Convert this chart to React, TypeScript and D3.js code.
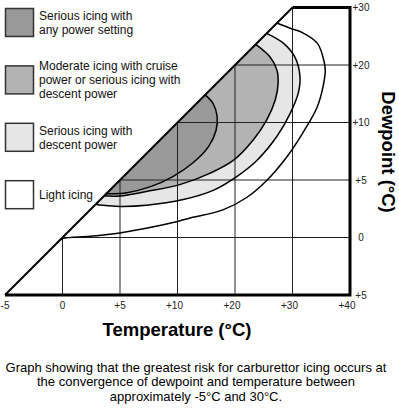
import React, { useEffect, useRef } from "react";
import * as d3 from "d3";

// axis ticks (the chart uses an uneven value spacing)
const xTicks = [-5, 0, 5, 10, 20, 30, 40];
const xTickLabels = ["-5", "0", "+5", "+10", "+20", "+30", "+40"];
const yTicks = [-5, 0, 5, 10, 20, 30];
const yTickLabels = ["+5", "0", "+5", "+10", "+20", "+30"];

// region boundaries [temperature, dewpoint], from lower diagonal end to upper diagonal end
const lightIcing: [number, number][] = [
  [-0.5, -0.5], [0, -0.1], [2.4, 0.1], [5, 0.4], [6.7, 0.7], [10, 1.4],
  [12.2, 1.7], [17.9, 2.4], [22.1, 3.5], [25.6, 5], [29, 7], [31.8, 9.1],
  [34.3, 12.7], [35.3, 16.2], [35.7, 19.1], [35.3, 21.4], [34.3, 23.8],
  [31.8, 25.6], [29.6, 26.4], [27.3, 27.3],
];
const seriousDescent: [number, number][] = [
  [2.9, 2.9], [3.5, 2.8], [5, 2.7], [7.3, 2.8], [11, 3.3], [16.2, 4.1],
  [20.3, 5.3], [23.8, 6.7], [27.3, 8.8], [29.6, 11.6], [31, 15.1],
  [31.3, 18], [30.4, 21.4], [28.4, 23.8], [25.5, 25.5],
];
const moderateCruise: [number, number][] = [
  [3.6, 3.6], [4.1, 3.6], [5, 3.6], [7.3, 4.0], [10.4, 4.6], [15.7, 5.6],
  [19.7, 6.7], [23.2, 8.5], [25.5, 10.4], [27, 13.9], [27.5, 16.8],
  [27.3, 19.1], [26.1, 21.4], [23.6, 23.6],
];
const seriousAny: [number, number][] = [
  [3.8, 3.8], [4.4, 3.8], [5.6, 3.9], [7.6, 4.4], [9.6, 5.3], [12.7, 6.5],
  [15.4, 7.9], [16.7, 9.3], [16.9, 11], [16.2, 13.3], [14.8, 14.8],
];

const legendLabels = [
  ["Serious icing with", "any power setting"],
  ["Moderate icing with cruise", "power or serious icing with", "descent power"],
  ["Serious icing with", "descent power"],
  ["Light icing"],
];
const legendFills = ["#999999", "#b3b3b3", "#e6e6e6", "#ffffff"];

const caption = [
  "Graph showing that the greatest risk for carburettor icing occurs at",
  "the convergence of dewpoint and temperature between",
  "approximately -5°C and 30°C.",
];

const FONT = "'Liberation Sans', Arial, sans-serif";

const App: React.FC = () => {
  const ref = useRef<SVGSVGElement | null>(null);
  const width = 399;
  const height = 408;

  useEffect(() => {
    if (!ref.current) return;
    const svg = d3.select(ref.current);
    svg.selectAll("*").remove();

    const step = 57.5;
    const x = d3
      .scaleLinear()
      .domain(xTicks)
      .range(xTicks.map((_, i) => 5 + i * step));
    const y = d3
      .scaleLinear()
      .domain(yTicks)
      .range(yTicks.map((_, i) => 295 - i * step));

    const xMin = xTicks[0];
    const xMax = xTicks[xTicks.length - 1];
    const yMin = yTicks[0];
    const yMax = yTicks[yTicks.length - 1];

    const line = d3
      .line<[number, number]>()
      .x((d) => x(d[0]))
      .y((d) => y(d[1]))
      .curve(d3.curveCatmullRom.alpha(0.5));

    const regions = [
      { pts: lightIcing, fill: legendFills[3] },
      { pts: seriousDescent, fill: legendFills[2] },
      { pts: moderateCruise, fill: legendFills[1] },
      { pts: seriousAny, fill: legendFills[0] },
    ];

    // fills
    svg
      .append("g")
      .selectAll("path")
      .data(regions)
      .enter()
      .append("path")
      .attr("d", (d) => line(d.pts) + "Z")
      .attr("fill", (d) => d.fill)
      .attr("stroke", "none");

    // grid
    const grid = svg.append("g").attr("stroke", "#222").attr("stroke-width", 1);
    xTicks
      .filter((v) => v > xMin && v < xMax)
      .forEach((v) => {
        grid
          .append("line")
          .attr("x1", x(v))
          .attr("x2", x(v))
          .attr("y1", y(yMin))
          .attr("y2", y(Math.min(v, yMax)));
      });
    yTicks
      .filter((v) => v > yMin && v < yMax)
      .forEach((v) => {
        grid
          .append("line")
          .attr("x1", x(v))
          .attr("x2", x(xMax))
          .attr("y1", y(v))
          .attr("y2", y(v));
      });

    // curve outlines
    svg
      .append("g")
      .selectAll("path")
      .data(regions)
      .enter()
      .append("path")
      .attr("d", (d) => line(d.pts))
      .attr("fill", "none")
      .attr("stroke", "#000")
      .attr("stroke-width", 1.5);

    // diagonal (dewpoint = temperature)
    svg
      .append("line")
      .attr("x1", x(xMin))
      .attr("y1", y(yMin))
      .attr("x2", x(yMax))
      .attr("y2", y(yMax))
      .attr("stroke", "#000")
      .attr("stroke-width", 2);

    // frame
    svg
      .append("path")
      .attr(
        "d",
        `M${x(yMax)},${y(yMax)}H${x(xMax)}V${y(yMin)}H${x(xMin)}`
      )
      .attr("fill", "none")
      .attr("stroke", "#000")
      .attr("stroke-width", 3)
      .attr("stroke-linejoin", "miter");

    // tick labels
    svg
      .append("g")
      .selectAll("text")
      .data(xTicks)
      .enter()
      .append("text")
      .attr("x", (d) => x(d) - (d > 5 ? 3 : 0))
      .attr("y", 308.5)
      .attr("text-anchor", "middle")
      .attr("font-family", FONT)
      .attr("font-size", 10)
      .attr("fill", "#222")
      .text((_, i) => xTickLabels[i]);

    svg
      .append("g")
      .selectAll("text")
      .data(yTicks)
      .enter()
      .append("text")
      .attr("x", x(xMax) + 11)
      .attr("y", (d) => y(d) + 3.5)
      .attr("text-anchor", "middle")
      .attr("font-family", FONT)
      .attr("font-size", 10)
      .attr("fill", "#222")
      .text((_, i) => yTickLabels[i]);

    // axis titles
    svg
      .append("text")
      .attr("x", 177)
      .attr("y", 336)
      .attr("text-anchor", "middle")
      .attr("font-family", FONT)
      .attr("font-weight", "bold")
      .attr("font-size", 18.5)
      .text("Temperature (°C)");

    svg
      .append("text")
      .attr("transform", "translate(382,152) rotate(90)")
      .attr("text-anchor", "middle")
      .attr("font-family", FONT)
      .attr("font-weight", "bold")
      .attr("font-size", 18.5)
      .text("Dewpoint (°C)");

    // legend
    const legend = svg.append("g");
    legendLabels.forEach((lines, i) => {
      const top = 8 + i * 57.4;
      legend
        .append("rect")
        .attr("x", 5.5)
        .attr("y", top + 0.5)
        .attr("width", 28)
        .attr("height", 28)
        .attr("fill", legendFills[i])
        .attr("stroke", "#333")
        .attr("stroke-width", 1.5);
      const center = top + 14.5;
      const first = center - (lines.length - 1) * 7 + 4.3;
      legend
        .append("text")
        .attr("font-family", FONT)
        .attr("font-size", 12)
        .attr("fill", "#111")
        .selectAll("tspan")
        .data(lines)
        .enter()
        .append("tspan")
        .attr("x", 39)
        .attr("y", (_, j) => first + j * 14)
        .text((d) => d);
    });

    // caption
    svg
      .append("text")
      .attr("font-family", FONT)
      .attr("font-size", 13)
      .attr("fill", "#000")
      .attr("text-anchor", "middle")
      .selectAll("tspan")
      .data(caption)
      .enter()
      .append("tspan")
      .attr("x", 196)
      .attr("y", (_, i) => 371.5 + i * 14.6)
      .text((d) => d);
  }, []);

  return (
    <svg
      ref={ref}
      width={width}
      height={height}
      style={{ position: "absolute", left: 0, top: 0, background: "#fff" }}
    ></svg>
  );
};

export default App;
